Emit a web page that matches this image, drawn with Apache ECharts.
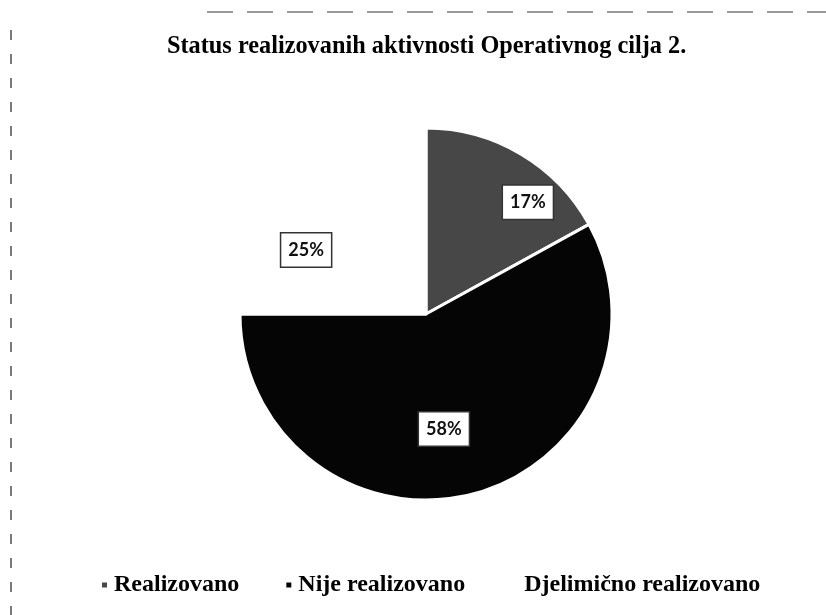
<!DOCTYPE html>
<html>
<head>
<meta charset="utf-8">
<script src="https://cdn.jsdelivr.net/npm/echarts@6/dist/echarts.min.js"></script>
<style>
  html, body { margin: 0; padding: 0; background: #ffffff; }
  #chart { width: 826px; height: 615px; }
</style>
</head>
<body>
<div id="chart"></div>
<script>
const titleText = 'Status realizovanih aktivnosti Operativnog cilja 2.';
const categories = ['Realizovano', 'Nije realizovano', 'Djelimično realizovano'];
const values = [17, 58, 25];
const sliceColors = ['#474747', '#050505', '#ffffff'];
const labelOffsets = [[53, -29], [-6, 22], [-52, 4]];

const chart = echarts.init(document.getElementById('chart'), null, { renderer: 'canvas' });

const data = categories.map((name, i) => ({
  name: name,
  value: values[i],
  itemStyle: { color: sliceColors[i] },
  label: { offset: labelOffsets[i] }
}));

chart.setOption({
  backgroundColor: '#ffffff',
  animation: false,
  title: {
    text: titleText,
    left: 162,
    top: 30,
    textStyle: {
      fontFamily: 'Liberation Serif',
      fontWeight: 'bold',
      fontSize: 24.3,
      color: '#000000'
    }
  },
  legend: {
    data: categories,
    left: 95,
    top: 568,
    icon: 'rect',
    itemWidth: 7,
    itemHeight: 7,
    itemGap: 45,
    selectedMode: false,
    textStyle: {
      fontFamily: 'Liberation Serif',
      fontWeight: 'bold',
      fontSize: 24,
      color: '#000000',
      padding: [0, 0, 0, 1]
    }
  },
  graphic: [
    { type: 'line', shape: { x1: 11, y1: 30, x2: 11, y2: 615 },
      style: { stroke: '#222', lineWidth: 1.2, lineDash: [10, 14] } },
    { type: 'line', shape: { x1: 207, y1: 12, x2: 826, y2: 12 },
      style: { stroke: '#333', lineWidth: 1, lineDash: [26, 14] } }
  ],
  series: [{
    type: 'pie',
    center: [426, 314],
    radius: 186,
    startAngle: 90,
    clockwise: true,
    data: data,
    itemStyle: { borderColor: '#ffffff', borderWidth: 3 },
    labelLine: { show: false },
    label: {
      show: true,
      position: 'inside',
      formatter: '{d}%',
      fontFamily: 'Lato',
      fontWeight: 'bold',
      fontSize: 18,
      color: '#111111',
      backgroundColor: '#ffffff',
      borderColor: '#333333',
      borderWidth: 1.5,
      padding: [8, 7, 7, 7]
    },
    emphasis: { disabled: true }
  }]
});
</script>
</body>
</html>
